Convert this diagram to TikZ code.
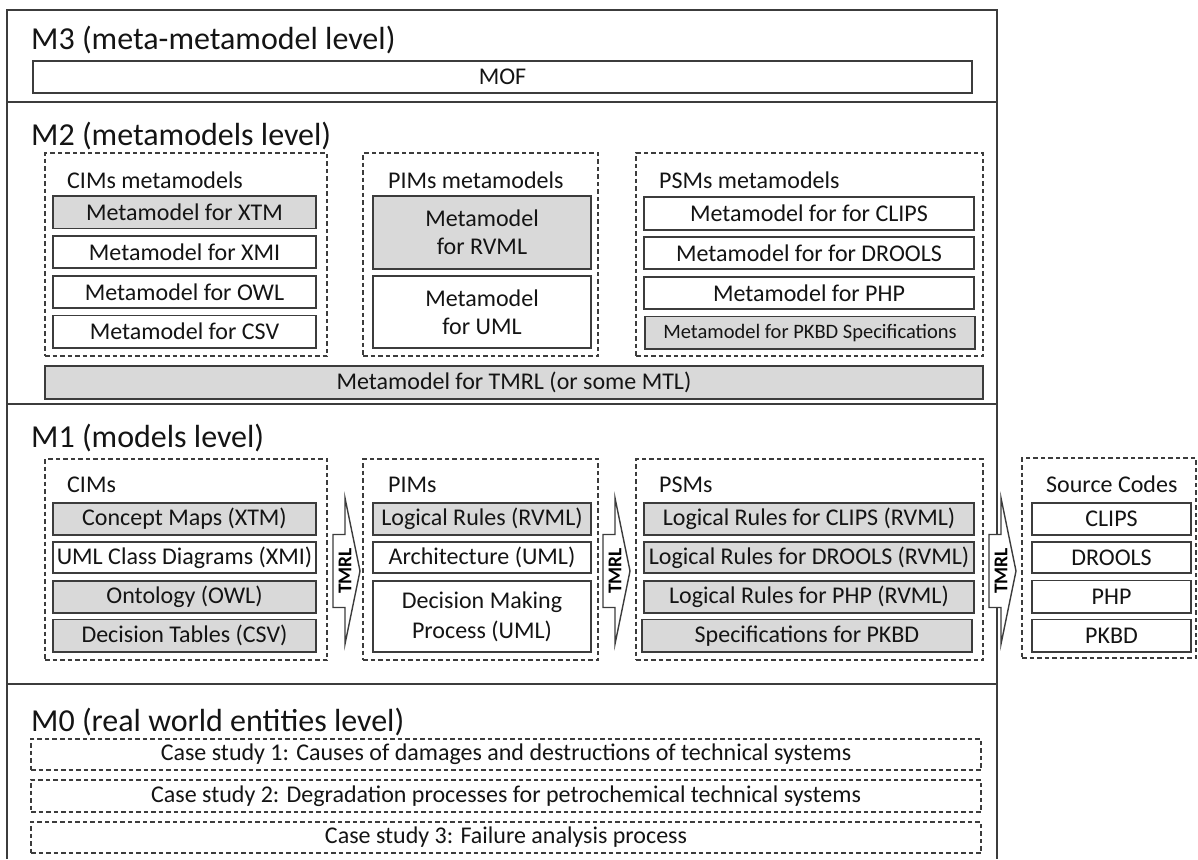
\documentclass[tikz,border=0pt]{standalone}
\usepackage{fontspec}
\setmainfont{Carlito}
\definecolor{boxgray}{RGB}{217,217,217}
\definecolor{linegray}{RGB}{60,60,60}
\definecolor{txt}{RGB}{20,20,20}
% box from corner (x1,y1) to corner (x2,y2): name, x1, y1, x2, y2, style, text
\newcommand\bx[7]{\node[#6, minimum width={#4-#2}, minimum height={#5-#3}] (#1) at ({(#2+#4)/2},{(#3+#5)/2}) {#7};}
\begin{document}
\begin{tikzpicture}[x=1pt,y=-1pt,
  frame/.style={draw=linegray, line width=1.7pt},
  solidbox/.style={draw=linegray, line width=1.4pt, fill=white, inner sep=0pt, align=center, text=txt,
    font=\fontsize{24}{28}\selectfont},
  graybox/.style={solidbox, fill=boxgray},
  groupbox/.style={draw=linegray, line width=1.2pt, dash pattern=on 4.5pt off 3pt, inner sep=0pt},
  title/.style={anchor=base west, inner sep=0pt, text=txt, font=\fontsize{32}{36}\selectfont},
  grouplabel/.style={anchor=base west, inner sep=0pt, text=txt, font=\fontsize{24}{28}\selectfont},
  arrowline/.style={draw=linegray, line width=1.4pt, fill=white, line join=miter},
  tmrltext/.style={rotate=90, inner sep=0pt, text=black, font=\bfseries\fontsize{19.5}{22}\selectfont},
  tmrl/.pic={
    \draw[arrowline] (0,-36.5) -- (12,-36.5) -- (12,-73) -- (27,0) -- (12,73) -- (12,36.5) -- (0,36.5) -- cycle;
    \node[tmrltext] (-lbl) at (12,0) {TMRL};
  }
]
\useasboundingbox (0,0) rectangle (1198,859);

% outer frame and level separators
\coordinate (fTL) at (7,10);
\coordinate (fTR) at (997,10);
\coordinate (fBL) at (7,859);
\coordinate (fBR) at (997,859);
\draw[frame] (fBL) -- (fTL) -- (fTR) -- (fBR);
\draw[frame] (7,102) -- (997,102);
\draw[frame] (7,404) -- (997,404);
\draw[frame] (7,684) -- (997,684);

% ---------------- M3 ----------------
\node[title] (m3) at (31,49) {M3 (meta-metamodel level)};
\bx{mof}{33}{61}{972}{93}{solidbox}{MOF}

% ---------------- M2 ----------------
\node[title] (m2) at (31,145) {M2 (metamodels level)};
\bx{cimmm}{45}{153}{327}{356}{groupbox}{}
\bx{pimmm}{363}{153}{598}{356}{groupbox}{}
\bx{psmmm}{636}{153}{983}{356}{groupbox}{}
\node[grouplabel] (cimmmL) at (67,188) {CIMs metamodels};
\node[grouplabel] (pimmmL) at (388,188) {PIMs metamodels};
\node[grouplabel] (psmmmL) at (659,188) {PSMs metamodels};

\bx{mxtm}{53}{196}{316}{228.5}{graybox}{Metamodel for XTM}
\bx{mxmi}{53}{236}{316}{268}{solidbox}{Metamodel for XMI}
\bx{mowl}{53}{276}{316}{308}{solidbox}{Metamodel for OWL}
\bx{mcsv}{53}{315.5}{316}{348}{solidbox}{Metamodel for CSV}

\bx{mrvml}{373}{196}{591}{269}{graybox}{Metamodel\\for RVML}
\bx{muml}{373}{276}{591}{348}{solidbox}{Metamodel\\for UML}

\bx{mclips}{644}{197}{974}{230}{solidbox}{Metamodel for for CLIPS}
\bx{mdrools}{644}{237}{974}{269}{solidbox}{Metamodel for for DROOLS}
\bx{mphp}{644}{277}{974}{309}{solidbox}{Metamodel for PHP}
\bx{mpkbd}{645}{316.5}{975}{349}{graybox,font=\fontsize{20.5}{24}\selectfont}{Metamodel for PKBD Specifications}

\bx{mtmrl}{45}{366}{983}{399}{graybox}{Metamodel for TMRL (or some MTL)}

% ---------------- M1 ----------------
\node[title] (m1) at (31,447) {M1 (models level)};
\bx{cims}{45}{459}{327}{660}{groupbox}{}
\bx{pims}{363}{459}{598}{660}{groupbox}{}
\bx{psms}{636}{459}{983}{660}{groupbox}{}
\bx{srcs}{1022}{458}{1196}{658}{groupbox}{}
\node[grouplabel] (cimsL) at (67,492) {CIMs};
\node[grouplabel] (pimsL) at (388,492) {PIMs};
\node[grouplabel] (psmsL) at (659,492) {PSMs};
\node[grouplabel] (srcsL) at (1046,492) {Source Codes};

\bx{cmaps}{53}{503}{316}{535}{graybox}{Concept Maps (XTM)}
\bx{umlcd}{53}{542}{316}{573}{solidbox}{UML Class Diagrams (XMI)}
\bx{onto}{53}{581}{316}{613}{graybox}{Ontology (OWL)}
\bx{dtab}{53}{619.5}{316}{652}{graybox}{Decision Tables (CSV)}

\bx{lrules}{373}{503}{591}{535}{graybox}{Logical Rules (RVML)}
\bx{arch}{373}{542}{591}{573}{solidbox}{Architecture (UML)}
\bx{dmp}{373}{581}{591}{652}{solidbox,font=\fontsize{24}{30}\selectfont}{Decision Making\\Process (UML)}

\bx{lrclips}{644}{503}{974}{535}{graybox}{Logical Rules for CLIPS (RVML)}
\bx{lrdrools}{644}{542}{974}{573}{graybox}{Logical Rules for DROOLS (RVML)}
\bx{lrphp}{644}{581}{974}{613}{graybox}{Logical Rules for PHP (RVML)}
\bx{spkbd}{642}{619.5}{972}{652}{graybox}{Specifications for PKBD}

\bx{sclips}{1032}{503}{1191}{535}{solidbox}{CLIPS}
\bx{sdrools}{1032}{542}{1191}{573}{solidbox}{DROOLS}
\bx{sphp}{1032}{580.5}{1191}{613}{solidbox}{PHP}
\bx{spkbd2}{1032}{619.5}{1191}{652}{solidbox}{PKBD}

% transformation arrows between the model groups
\pic (t1) at (333,571) {tmrl};
\pic (t2) at (603,571) {tmrl};
\pic (t3) at (989,571) {tmrl};

% ---------------- M0 ----------------
\node[title] (m0) at (31,731) {M0 (real world entities level)};
\bx{case1}{31}{739}{981}{770}{groupbox,text=txt,font=\fontsize{24}{28}\selectfont}{Case study 1: Causes of damages and destructions of technical systems}
\bx{case2}{31}{780}{981}{812}{groupbox,text=txt,font=\fontsize{24}{28}\selectfont}{Case study 2: Degradation processes for petrochemical technical systems}
\bx{case3}{31}{822}{981}{853}{groupbox,text=txt,font=\fontsize{24}{28}\selectfont}{Case study 3: Failure analysis process}
\end{tikzpicture}
\end{document}
